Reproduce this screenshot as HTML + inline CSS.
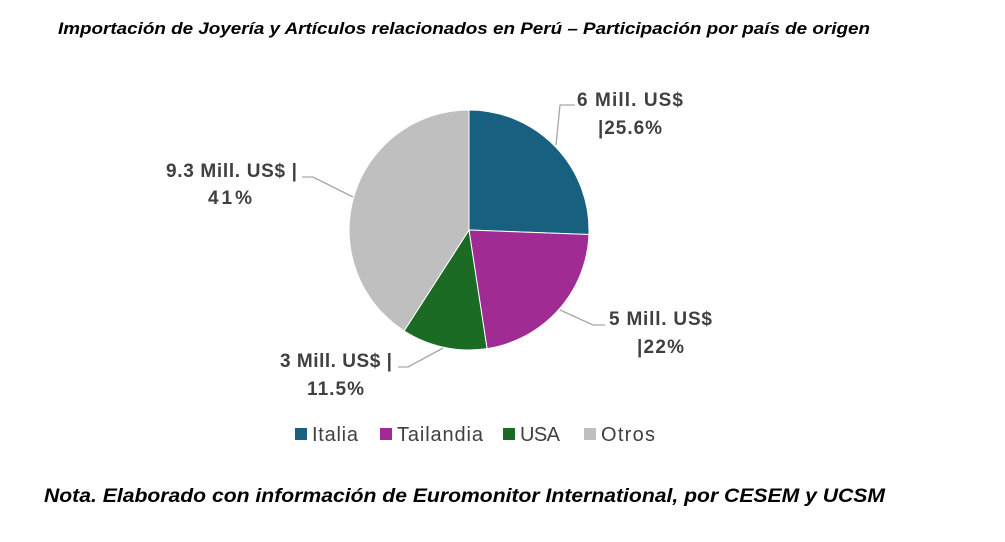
<!DOCTYPE html>
<html><head><meta charset="utf-8"><style>
body{margin:0;background:#fff;width:1005px;height:537px;overflow:hidden;font-family:"Liberation Sans",sans-serif}
</style></head><body>
<svg width="1005" height="537" xmlns="http://www.w3.org/2000/svg" font-family="Liberation Sans, sans-serif">
<text x="58" y="34" font-size="17" font-weight="bold" font-style="italic" fill="#000" textLength="812" lengthAdjust="spacingAndGlyphs">Importación de Joyería y Artículos relacionados en Perú – Participación por país de origen</text>
<g stroke="#fff" stroke-width="1">
<path d="M469,230 L469,110 A120,120 0 0 1 588.9,234.5 Z" fill="#17607f"/>
<path d="M469,230 L588.9,234.5 A120,120 0 0 1 487,348.6 Z" fill="#a02b93"/>
<path d="M469,230 L487,348.6 A120,120 0 0 1 404.1,330.9 Z" fill="#1b6b25"/>
<path d="M469,230 L404.1,330.9 A120,120 0 0 1 469,110 Z" fill="#bfbfbf"/>
</g>
<g stroke="#a6a6a6" stroke-width="1.3" fill="none">
<polyline points="556,145 560,105 575,105"/>
<polyline points="560,310 593,325 605,325"/>
<polyline points="443,348 408,367 398,367"/>
<polyline points="353,197 313,177 302,177"/>
</g>
<g font-size="19" font-weight="bold" fill="#404040" lengthAdjust="spacingAndGlyphs">
<text x="577" y="106" textLength="106">6 Mill. US$</text>
<text x="598" y="134" textLength="64">|25.6%</text>
<text x="609" y="325" textLength="103">5 Mill. US$</text>
<text x="637" y="353" textLength="47">|22%</text>
<text x="280" y="367" textLength="112">3 Mill. US$ |</text>
<text x="307" y="395" textLength="57">11.5%</text>
<text x="166" y="177" textLength="131">9.3 Mill. US$ |</text>
<text x="208" y="204" textLength="44">41%</text>
</g>
<g font-size="20" fill="#404040" lengthAdjust="spacingAndGlyphs">
<rect x="295" y="428" width="12" height="12" fill="#17607f"/><text x="312" y="441" textLength="46">Italia</text>
<rect x="380" y="428" width="12" height="12" fill="#a02b93"/><text x="397" y="441" textLength="86">Tailandia</text>
<rect x="503" y="428" width="12" height="12" fill="#1b6b25"/><text x="520" y="441" textLength="40">USA</text>
<rect x="584" y="428" width="12" height="12" fill="#bfbfbf"/><text x="601" y="441" textLength="54">Otros</text>
</g>
<text x="44" y="502" font-size="19" font-weight="bold" font-style="italic" fill="#000" textLength="841" lengthAdjust="spacingAndGlyphs">Nota. Elaborado con información de Euromonitor International, por CESEM y UCSM</text>
</svg>
</body></html>
